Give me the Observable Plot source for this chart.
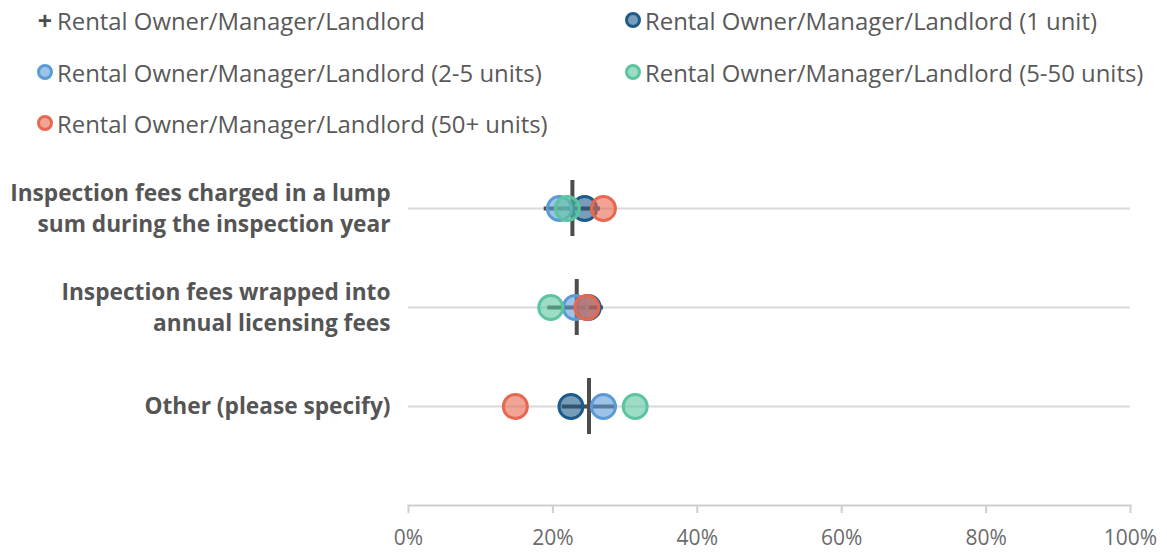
<!DOCTYPE html>
<html>
<head>
<meta charset="utf-8">
<script src="https://cdn.jsdelivr.net/npm/d3@7"></script>
<script src="https://cdn.jsdelivr.net/npm/@observablehq/plot@0.6"></script>
<style>
  html, body { margin: 0; padding: 0; background: #fff; }
  body { width: 1167px; height: 552px; overflow: hidden; font-family: "Open Sans", sans-serif; }
  #legend { position: relative; height: 150px; }
  .item { position: absolute; display: flex; align-items: center; height: 30px; font-size: 23.9px; color: #595959; white-space: nowrap; }
  .sw { width: 10px; height: 10px; border-radius: 50%; border-width: 3px; border-style: solid; margin-right: 4px; flex: none; }
  .plus { width: 16px; text-align: center; font-weight: 700; font-size: 25px; line-height: 25px; color: #4d4d4d; margin-right: 4px; }
</style>
</head>
<body>
<div id="legend"></div>
<div id="chart"></div>
<script>
const categories = [
  "Inspection fees charged in a lump\nsum during the inspection year",
  "Inspection fees wrapped into\nannual licensing fees",
  "Other (please specify)"
];
const seriesNames = [
  "Rental Owner/Manager/Landlord",
  "Rental Owner/Manager/Landlord (1 unit)",
  "Rental Owner/Manager/Landlord (2-5 units)",
  "Rental Owner/Manager/Landlord (5-50 units)",
  "Rental Owner/Manager/Landlord (50+ units)"
];
const seriesColors = ["#4d4d4d", "#1d5b8b", "#5b9bd5", "#5cc49e", "#e8674f"];

const overall     = [22.7, 23.3, 25.0];
const overallLow  = [18.8, 19.3, 21.3];
const overallHigh = [26.6, 27.0, 28.9];
const oneUnit     = [24.4, 24.9, 22.5];
const twoToFive   = [20.9, 23.1, 27.0];
const fiveToFifty = [22.0, 19.7, 31.4];
const fiftyPlus   = [27.0, 24.7, 14.8];

const xTicks = [0, 20, 40, 60, 80, 100];

// legend
const legend = document.getElementById("legend");
const legendPos = [[37, 5], [625, 5], [37, 57], [625, 57], [37, 108]];
seriesNames.forEach((name, i) => {
  const el = document.createElement("div");
  el.className = "item";
  el.style.left = legendPos[i][0] + "px";
  el.style.top = legendPos[i][1] + "px";
  if (i === 0) {
    el.innerHTML = `<span class="plus">+</span>`;
  } else {
    const f = d3.interpolateRgb(seriesColors[i], "#fff")(0.4);
    el.innerHTML = `<span class="sw" style="border-color:${seriesColors[i]};background:${f}"></span>`;
  }
  el.appendChild(document.createTextNode(name));
  legend.appendChild(el);
});

// data tables
const overallData = categories.map((c, i) => ({cat: c, v: overall[i], lo: overallLow[i], hi: overallHigh[i]}));
const groups = [oneUnit, twoToFive, fiveToFifty, fiftyPlus];
const dots = [];
groups.forEach((arr, g) => arr.forEach((v, i) => dots.push({cat: categories[i], v, s: seriesNames[g + 1]})));

const chart = Plot.plot({
  width: 1167,
  height: 402,
  marginLeft: 408,
  marginRight: 37,
  marginTop: 7,
  marginBottom: 47,
  style: {fontFamily: "Open Sans, sans-serif", background: "#fff"},
  x: {domain: [0, 100], axis: null},
  y: {type: "band", domain: categories, paddingInner: 0.438, paddingOuter: 0.22, insetBottom: 49, axis: null},
  color: {domain: seriesNames.slice(1), range: seriesColors.slice(1)},
  marks: [
    Plot.ruleY(categories, {y: d => d, x1: 0, x2: 100, stroke: "#d9d9d9", strokeWidth: 2}),
    Plot.frame({anchor: "bottom", stroke: "#cfcfcf", strokeWidth: 2}),
    Plot.axisX({ticks: xTicks, tickSize: 8, stroke: "#cfcfcf", strokeWidth: 2, fill: "#6b6b6b", fontSize: 21, tickPadding: 17, tickFormat: d => d + "%"}),
    Plot.text(categories, {x: 0, y: d => d, text: d => d, textAnchor: "end", dx: -18, dy: -2, fontSize: 22.7, fontWeight: 700, fill: "#555", lineHeight: 1.37}),
    Plot.ruleY(overallData, {y: "cat", x1: "lo", x2: "hi", stroke: "#4d4d4d", strokeWidth: 4}),
    Plot.tickX(overallData, {x: "v", y: "cat", stroke: "#4d4d4d", strokeWidth: 4}),
    Plot.dot(dots, {x: "v", y: "cat", r: 12, stroke: "s", fill: "s", fillOpacity: 0.6, strokeWidth: 3})
  ]
});
document.getElementById("chart").appendChild(chart);
</script>
</body>
</html>
